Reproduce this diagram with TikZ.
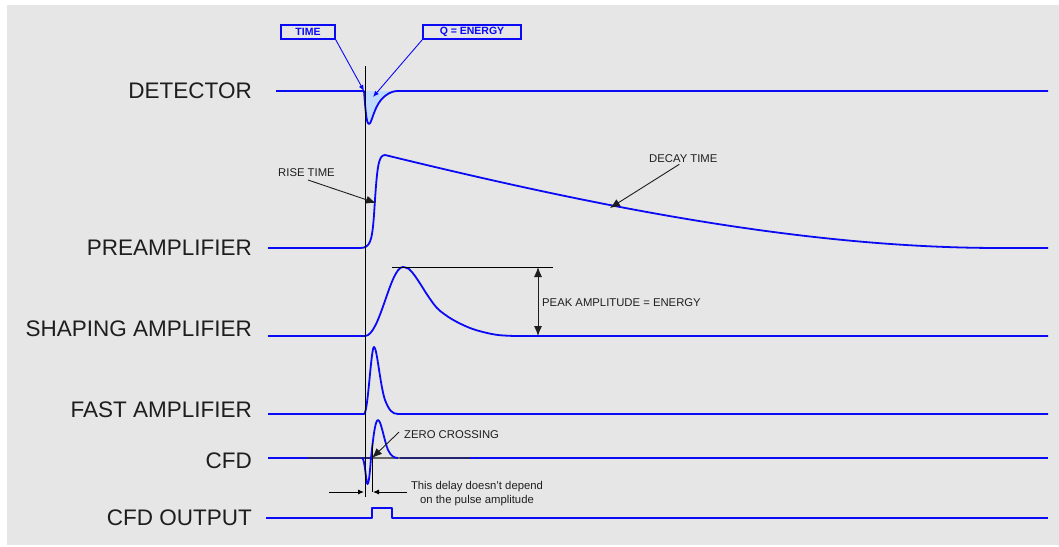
\documentclass[tikz,border=0pt]{standalone}
\usepackage{fontspec}
\setmainfont{Liberation Sans}
\usetikzlibrary{arrows.meta}
\definecolor{bgc}{HTML}{E6E6E6}
\definecolor{sig}{HTML}{0A0AF5}
\definecolor{txt}{HTML}{1E1E1E}
\definecolor{dipfill}{HTML}{BFDBFF}
\definecolor{navy}{HTML}{22226E}
\begin{document}
\begin{tikzpicture}[x=1pt,y=-1pt,
  biglabel/.style={anchor=base east,inner sep=0pt,text=txt,font=\fontsize{22.5}{27}\selectfont},
  smalllabel/.style={inner sep=0pt,text=txt,font=\fontsize{11.3}{14}\selectfont},
  tagbox/.style={draw=sig,line width=1.4pt,fill=bgc,inner sep=0pt,minimum height=14pt,text=sig,font=\fontsize{10.5}{12}\selectfont\bfseries},
  signal/.style={draw=sig,line width=1.8pt,line join=round},
  thin/.style={draw=black,line width=0.9pt},
  blackarrow/.style={draw=txt,line width=0.9pt,-{Latex[length=10pt,width=8pt]}},
  smallarrow/.style={draw=black,line width=0.9pt,-{Latex[length=6pt,width=5pt]}},
  bluearrow/.style={draw=sig,line width=0.9pt,-{Latex[length=6pt,width=5pt]}}]
\useasboundingbox (0,0) rectangle (1059,546);
\fill[bgc] (7,5) rectangle (1059,545);

% row labels
\node[biglabel] (ldet) at (252,98) {DETECTOR};
\node[biglabel] (lpre) at (252,255) {PREAMPLIFIER};
\node[biglabel] (lsha) at (252,336) {SHAPING AMPLIFIER};
\node[biglabel] (lfast) at (252,417) {FAST AMPLIFIER};
\node[biglabel] (lcfd) at (252,468) {CFD};
\node[biglabel] (lout) at (252,525) {CFD OUTPUT};

% detector pulse fill
\fill[dipfill] (364,91) .. controls (366,118) and (367,124) .. (369,124)
  .. controls (372,124) and (374,104) .. (385,96)
  .. controls (390,92) and (394,91) .. (398,91) -- cycle;

% CFD dark reference line
\draw[navy,line width=1.8pt] (308,458) -- (470,458);

% signals
\draw[signal] (276,91) -- (364,91) .. controls (366,118) and (367,124) .. (369,124)
  .. controls (372,124) and (374,104) .. (385,96)
  .. controls (390,92) and (394,91) .. (398,91) -- (1048,91);

\draw[signal] (268,248) -- (360,248) .. controls (370,248) and (372,242) .. (374,215)
  .. controls (377,168) and (378,155) .. (385,155)
  .. controls (590,205) and (800,248) .. (1000,248) -- (1048,248);

\draw[signal] (268,336) -- (365,336) .. controls (380,336) and (390,267) .. (403,267)
  plot[smooth,tension=0.6] coordinates {(403,267) (409,269) (415,276) (421,285) (428,296) (437,308) (447,316) (457,322) (470,328) (483,332) (498,335) (515,336)}
  -- (1048,336);

\draw[signal] (268,414) -- (364,414) .. controls (368,414) and (371,347) .. (374,347)
  .. controls (377,347) and (380,385) .. (385,400)
  .. controls (389,410) and (392,414) .. (398,414) -- (1048,414);

\draw[signal] (268,458) -- (308,458);
\draw[signal] (470,458) -- (1048,458);
\draw[gray!80!black,line width=1.8pt] (372,458) -- (400,458);
\draw[signal] (362,458) .. controls (365,458) and (366,484) .. (367.5,484)
  .. controls (369,484) and (370,470) .. (371,458)
  .. controls (373,440) and (375,420) .. (378,420)
  .. controls (381,420) and (384,440) .. (388,450)
  .. controls (391,456) and (394,458) .. (398,458);

\draw[signal] (266,518) -- (372,518) -- (372,508) -- (392,508) -- (392,518) -- (1048,518);

% time reference lines
\draw[thin] (365,66) -- (365,497);
\draw[thin] (372,443) -- (372,492);

% tag boxes
\node[tagbox,minimum width=54pt] (timebox) at (308,32) {TIME};
\node[tagbox,minimum width=98pt] (qbox) at (472,32) {Q = ENERGY};
\coordinate (timetip) at (364,91);
\coordinate (qtip) at (373,97);
\draw[bluearrow] (timebox.south east) -- (timetip);
\draw[bluearrow] (qbox.south west) -- (qtip);

% rise / decay
\node[smalllabel,anchor=base west] (rise) at (278,176) {RISE TIME};
\coordinate (risetip) at (376,203);
\draw[blackarrow] (308,180) -- (risetip);
\node[smalllabel,anchor=base west] (decay) at (649,162) {DECAY TIME};
\coordinate (decaytip) at (610,208);
\draw[blackarrow] (decay.south) ++(-4,2) -- (decaytip);

% peak amplitude
\coordinate (peakL) at (392,267);
\coordinate (peakR) at (553,267);
\draw[thin] (peakL) -- (peakR);
\coordinate (ampTop) at (538,267);
\coordinate (ampBot) at (538,336);
\draw[draw=txt,line width=0.9pt,{Latex[length=10pt,width=8pt]}-{Latex[length=10pt,width=8pt]}] (ampTop) -- (ampBot);
\node[smalllabel,anchor=base west] (peak) at (542,306) {PEAK AMPLITUDE = ENERGY};

% zero crossing
\node[smalllabel,anchor=base west] (zero) at (404,438) {ZERO CROSSING};
\coordinate (zerotip) at (372,458);
\draw[blackarrow] (zero.west) ++(-5,-2) -- (zerotip);

% delay
\coordinate (dl0) at (329,492);
\coordinate (dl1) at (364,492);
\coordinate (dr0) at (407,492);
\coordinate (dr1) at (373,492);
\draw[smallarrow] (dl0) -- (dl1);
\draw[smallarrow] (dr0) -- (dr1);
\node[smalllabel,anchor=base] (delay1) at (477,489) {This delay doesn’t depend};
\node[smalllabel,anchor=base] (delay2) at (477,503) {on the pulse amplitude};
\end{tikzpicture}
\end{document}
